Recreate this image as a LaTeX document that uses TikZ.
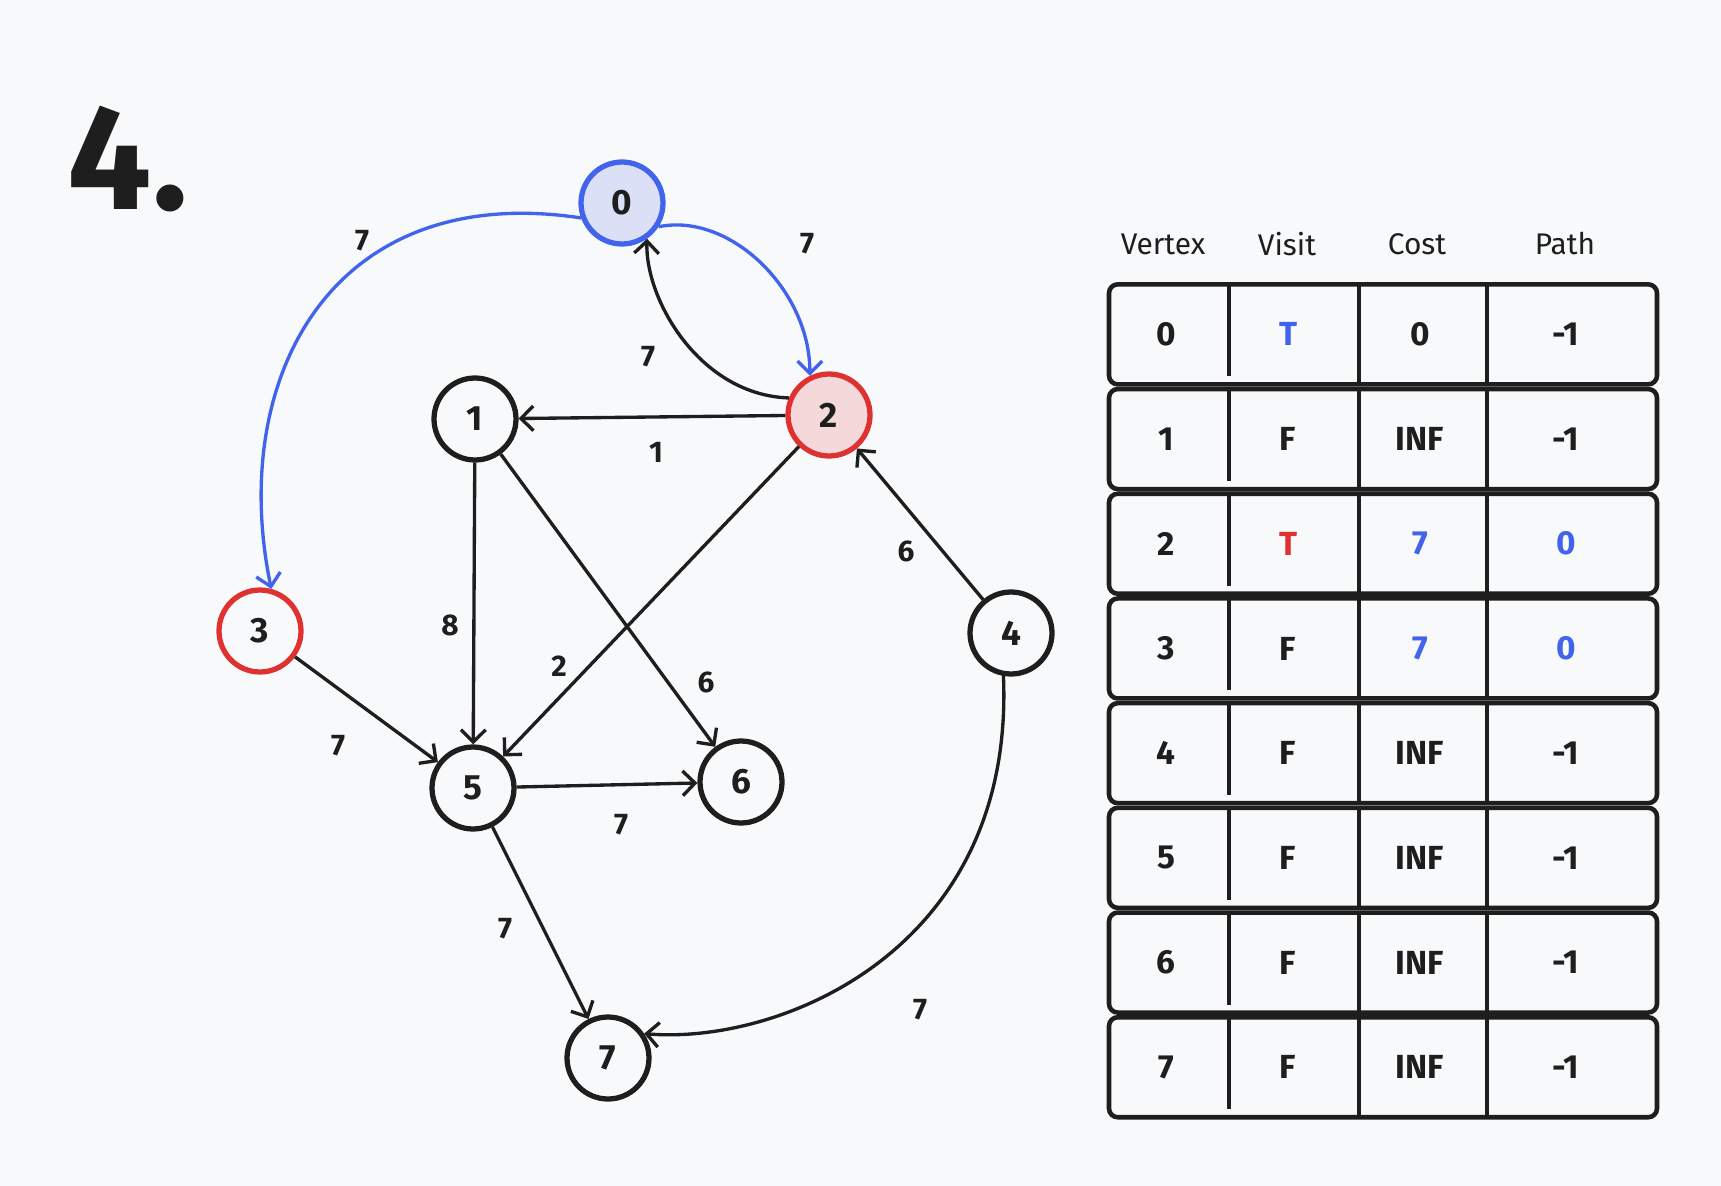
\documentclass[tikz,border=0pt]{standalone}
\usepackage{fontspec}
\setmainfont{Fira Sans}
\usetikzlibrary{arrows.meta}
\definecolor{bgpaper}{RGB}{248,249,250}
\definecolor{visblue}{RGB}{66,99,235}
\definecolor{visred}{RGB}{224,49,49}
\definecolor{bluefill}{RGB}{219,224,247}
\definecolor{redfill}{RGB}{245,217,218}
\definecolor{inkblack}{RGB}{30,30,30}
\tikzset{
  vtx/.style={circle, draw=inkblack, line width=3pt, minimum size=1.64cm, inner sep=0pt, text=inkblack, font=\bfseries\fontsize{20}{24}\selectfont},
  edge/.style={draw=inkblack, line width=1.9pt, -{Straight Barb[length=7pt,width=14pt]}},
  wlbl/.style={text=inkblack, font=\bfseries\fontsize{17}{20}\selectfont},
  cell/.style={text=inkblack, font=\bfseries\fontsize{19}{23}\selectfont},
  head/.style={text=inkblack, font=\fontsize{17}{20}\selectfont},
  rowbox/.style={draw=inkblack, line width=2.6pt, rounded corners=5pt},
  coldiv/.style={draw=inkblack, line width=2.6pt}
}
\begin{document}
\begin{tikzpicture}[x=0.02cm, y=-0.02cm]
\fill[bgpaper] (0,0) rectangle (1721,1186);
\useasboundingbox (0,0) rectangle (1721,1186);

\node[text=inkblack, font=\bfseries\fontsize{85}{90}\selectfont] (title) at (128,159) {4.};

% vertices
\node[vtx, draw=visblue, fill=bluefill] (n0) at (622,203) {0};
\node[vtx] (n1) at (475,419) {1};
\node[vtx, draw=visred, fill=redfill] (n2) at (829,415) {2};
\node[vtx, draw=visred] (n3) at (260,631) {3};
\node[vtx] (n4) at (1011,633) {4};
\node[vtx] (n5) at (473,788) {5};
\node[vtx] (n6) at (741,782) {6};
\node[vtx] (n7) at (608,1058) {7};

% edges
\draw[edge, draw=visblue] (n0.-33) .. controls (730,212) and (810,290) .. (n2.116);
\draw[edge, draw=visblue] (n0.200) .. controls (330,180) and (228,380) .. (n3.75);
\draw[edge] (n2.157) .. controls (700,395) and (645,300) .. (n0.-55);
\draw[edge] (n2) -- (n1);
\draw[edge] (n2) -- (n5);
\draw[edge] (n1) -- (n5);
\draw[edge] (n1) -- (n6);
\draw[edge] (n4) -- (n2);
\draw[edge] (n3) -- (n5);
\draw[edge] (n5) -- (n6);
\draw[edge] (n5) -- (n7);
\draw[edge] (n4.-100) .. controls (1015,950) and (780,1045) .. (n7.34);

% weights
\node[wlbl] (w02) at (807,244) {7};
\node[wlbl] (w03) at (362,241) {7};
\node[wlbl] (w20) at (648,357) {7};
\node[wlbl] (w21) at (656,452) {1};
\node[wlbl] (w25) at (559,666) {2};
\node[wlbl] (w15) at (450,625) {8};
\node[wlbl] (w16) at (706,682) {6};
\node[wlbl] (w42) at (906,551) {6};
\node[wlbl] (w35) at (338,746) {7};
\node[wlbl] (w56) at (621,825) {7};
\node[wlbl] (w57) at (505,929) {7};
\node[wlbl] (w47) at (920,1010) {7};

% table
\node[head] (hvertex) at (1163,244) {Vertex};
\node[head] (hvisit) at (1287,244) {Visit};
\node[head] (hcost) at (1417,244) {Cost};
\node[head] (hpath) at (1565,244) {Path};
\foreach \r/\vc/\vis/\cc/\cost/\pc/\pth in {
  0/visblue/T/inkblack/0/inkblack/-1,
  1/inkblack/F/inkblack/INF/inkblack/-1,
  2/visred/T/visblue/7/visblue/0,
  3/inkblack/F/visblue/7/visblue/0,
  4/inkblack/F/inkblack/INF/inkblack/-1,
  5/inkblack/F/inkblack/INF/inkblack/-1,
  6/inkblack/F/inkblack/INF/inkblack/-1,
  7/inkblack/F/inkblack/INF/inkblack/-1} {
  \pgfmathsetmacro{\yc}{282+104.7*(\r+0.5)}
  \pgfmathsetmacro{\yt}{\yc-50}
  \pgfmathsetmacro{\yb}{\yc+50}
  \draw[rowbox] (1109,\yt) rectangle (1657,\yb);
  \draw[coldiv] (1229,\yt) -- (1229,\yb-8);
  \draw[coldiv] (1359,\yt) -- (1359,\yb);
  \draw[coldiv] (1487,\yt) -- (1487,\yb);
  \node[cell] (vx\r) at (1166,\yc) {\r};
  \node[cell, text=\vc] (vs\r) at (1288,\yc) {\vis};
  \node[cell, text=\cc] (co\r) at (1420,\yc) {\cost};
  \node[cell, text=\pc] (pa\r) at (1566,\yc) {\pth};
}
\end{tikzpicture}
\end{document}
